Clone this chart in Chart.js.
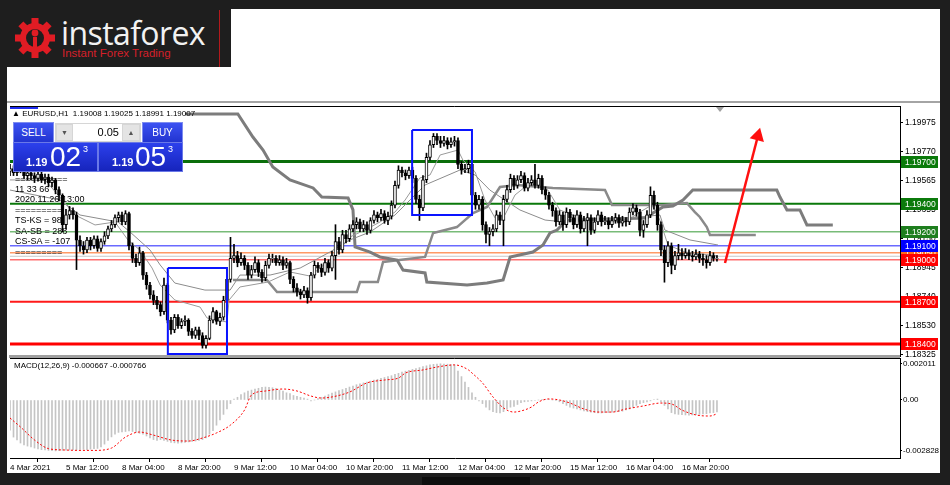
<!DOCTYPE html>
<html>
<head>
<meta charset="utf-8">
<script src="https://cdn.jsdelivr.net/npm/chart.js@4.4.1/dist/chart.umd.min.js"></script>
<style>
  body { margin: 0; width: 950px; height: 485px; background: #1e1e1e; position: relative; overflow: hidden;
         font-family: "Liberation Sans", Arial, sans-serif; }
  .abs { position: absolute; }
  .white { background: #fff; }
  canvas { position: absolute; }
  .txt { position: absolute; font-size: 9px; color: #000; white-space: pre; line-height: 10px; z-index: 5; }
  .btn { position: absolute; z-index: 6; color: #fff; font-size: 10px; text-align: center; line-height: 19px;
         background: linear-gradient(#3c52f2, #2234d0); border: 1px solid #7d8cf0; box-sizing: border-box; }
  .pbox { position: absolute; z-index: 6; color: #fff; background: linear-gradient(#2c40ec, #1624bc);
          border: 1px solid #6a78e8; box-sizing: border-box; }
  .pbox span { position: absolute; }
</style>
</head>
<body>
<!-- logo block -->
<div class="abs" style="left:219px;top:10px;width:1px;height:58px;background:#b3191c"></div>
<svg class="abs" style="left:14px;top:17px" width="42" height="42" viewBox="0 0 42 42">
  <g fill="#e01c24" transform="translate(21 21)">
    <rect x="-3.5" y="-20" width="7" height="8"/>
    <rect x="-3.5" y="-20" width="7" height="8" transform="rotate(45)"/>
    <rect x="-3.5" y="-20" width="7" height="8" transform="rotate(90)"/>
    <rect x="-3.5" y="-20" width="7" height="8" transform="rotate(135)"/>
    <rect x="-3.5" y="-20" width="7" height="8" transform="rotate(180)"/>
    <rect x="-3.5" y="-20" width="7" height="8" transform="rotate(225)"/>
    <rect x="-3.5" y="-20" width="7" height="8" transform="rotate(270)"/>
    <rect x="-3.5" y="-20" width="7" height="8" transform="rotate(315)"/>
    <circle r="15"/>
  </g>
  <circle cx="21" cy="21" r="9" fill="#1e1e1e"/>
  <circle cx="21" cy="16" r="3.4" fill="#e01c24"/>
  <rect x="19" y="20" width="4" height="16" fill="#e01c24"/>
</svg>
<div class="abs" style="left:61px;top:11px;font-family:'Open Sans',sans-serif;font-size:32px;color:#f2f2f2;letter-spacing:-0.6px">instaforex</div>
<div class="abs" style="left:62px;top:47px;font-size:11.5px;color:#d4202a">Instant Forex Trading</div>

<!-- white window -->
<div class="abs white" style="left:231px;top:9px;width:709px;height:59px"></div>
<div class="abs white" style="left:7px;top:67px;width:933px;height:406px"></div>
<div class="abs" style="left:422px;top:477px;width:108px;height:8px;background:#0e0e0e"></div>
<div class="abs" style="left:7px;top:101px;width:933px;height:2px;background:#a4a4a4"></div>
<div class="abs" style="left:9px;top:355px;width:891px;height:3px;background:#a0a0a0;z-index:4"></div>
<div class="abs" style="left:10px;top:107px;width:28px;height:2px;background:#1d2cf0;z-index:4"></div>
<div class="abs" style="left:716px;top:107px;width:0;height:0;border-left:4px solid transparent;border-right:4px solid transparent;border-top:5px solid #a0a0a0;z-index:4"></div>

<canvas id="mainChart" width="930" height="262" style="left:10px;top:100px"></canvas>
<canvas id="macdChart" width="930" height="125" style="left:10px;top:352px"></canvas>

<!-- chart text overlays -->
<div class="txt" style="left:12px;top:109px;font-size:8px">▲ EURUSD,H1  1.19008 1.19025 1.18991 1.19007</div>
<div class="txt" style="left:15px;top:174px">==========</div>
<div class="txt" style="left:15px;top:184px">11 33 66</div>
<div class="txt" style="left:15px;top:194px">2020.11.26 13:00</div>
<div class="txt" style="left:15px;top:205px">=========</div>
<div class="txt" style="left:15px;top:215px">TS-KS = 98</div>
<div class="txt" style="left:15px;top:226px">SA-SB = 288</div>
<div class="txt" style="left:15px;top:236px">CS-SA = -107</div>
<div class="txt" style="left:15px;top:247px">=========</div>
<div class="txt" style="left:14px;top:361px;font-size:8px">MACD(12,26,9) -0.000667 -0.000766</div>

<!-- one click trading panel -->
<div class="btn" style="left:13px;top:122px;width:41px;height:21px">SELL</div>
<div class="abs" style="left:55px;top:123px;width:86px;height:19px;background:#d6d6d6;z-index:6"></div>
<div class="abs" style="left:57px;top:125px;width:15px;height:15px;background:#e4e4e4;z-index:6;font-size:7px;color:#555;text-align:center;line-height:15px">▼</div>
<div class="abs" style="left:73px;top:124px;width:49px;height:17px;background:#fff;z-index:6;font-size:11px;text-align:right;line-height:17px;box-sizing:border-box;padding-right:3px">0.05</div>
<div class="abs" style="left:123px;top:125px;width:16px;height:15px;background:#e4e4e4;z-index:6;font-size:7px;color:#555;text-align:center;line-height:15px">▲</div>
<div class="btn" style="left:142px;top:122px;width:41px;height:21px">BUY</div>
<div class="pbox" style="left:13px;top:142px;width:85px;height:30px">
  <span style="left:12px;top:13px;font-size:11px;font-weight:bold">1.19</span>
  <span style="left:36px;top:-2px;font-size:28px">02</span>
  <span style="left:69px;top:1px;font-size:9px">3</span>
</div>
<div class="pbox" style="left:98px;top:142px;width:85px;height:30px">
  <span style="left:13px;top:13px;font-size:11px;font-weight:bold">1.19</span>
  <span style="left:36px;top:-2px;font-size:28px">05</span>
  <span style="left:69px;top:1px;font-size:9px">3</span>
</div>

<script>
// ---- EURUSD H1 candles, price x 10000 (open = previous close) ----
const firstOpen = 11963;
const closes = [
  11965,11962,11967,11964,11960,11962,11960,11958,11961,11957,
  11959,11955,11957,11950,11946,11925,11932,11935,11932,11914,
  11910,11907,11914,11910,11915,11908,11913,11917,11922,11925,
  11930,11932,11927,11933,11910,11901,11898,11905,11889,11882,
  11875,11871,11868,11863,11882,11857,11850,11859,11853,11856,
  11857,11849,11846,11850,11846,11839,11844,11857,11863,11856,
  11859,11871,11886,11901,11903,11898,11901,11896,11889,11893,
  11898,11891,11887,11896,11901,11901,11898,11900,11896,11898,
  11886,11880,11877,11875,11878,11873,11889,11896,11894,11891,
  11898,11894,11903,11913,11907,11918,11915,11922,11925,11927,
  11922,11925,11921,11928,11932,11930,11933,11928,11931,11939,
  11953,11964,11962,11960,11964,11958,11943,11937,11957,11973,
  11982,11988,11985,11983,11985,11982,11984,11985,11968,11964,
  11965,11968,11946,11939,11943,11925,11918,11920,11922,11932,
  11928,11943,11950,11958,11953,11957,11960,11951,11955,11957,
  11953,11958,11950,11946,11939,11935,11927,11932,11925,11934,
  11930,11925,11932,11922,11928,11930,11921,11927,11932,11927,
  11928,11925,11928,11930,11926,11928,11927,11934,11937,11934,
  11921,11925,11932,11946,11939,11925,11907,11898,11910,11896,
  11903,11905,11903,11905,11903,11902,11904,11901,11900,11898,
  11903,11901,11901
];
const highs = [
  11968,11967,11970,11969,11966,11964,11964,11962,11963,11963,
  11961,11961,11959,11958,11952,11947,11936,11938,11937,11934,
  11917,11913,11916,11916,11917,11917,11915,11920,11924,11928,
  11932,11934,11934,11935,11934,11912,11904,11909,11906,11891,
  11884,11878,11874,11870,11887,11883,11859,11861,11861,11858,
  11860,11858,11851,11852,11852,11848,11846,11860,11866,11864,
  11862,11874,11889,11916,11911,11906,11905,11903,11898,11896,
  11902,11900,11893,11899,11904,11904,11903,11903,11902,11901,
  11899,11888,11883,11879,11881,11880,11891,11899,11898,11897,
  11901,11900,11906,11925,11916,11921,11921,11925,11928,11930,
  11929,11928,11927,11930,11935,11934,11936,11935,11934,11942,
  11956,11967,11966,11964,11966,11966,11960,11946,11960,11976,
  11985,11990,11990,11988,11988,11987,11987,11988,11987,11970,
  11968,11971,11970,11948,11946,11945,11927,11923,11925,11935,
  11934,11946,11953,11961,11960,11960,11963,11962,11958,11960,
  11968,11961,11960,11952,11948,11941,11937,11935,11934,11937,
  11936,11932,11935,11934,11931,11933,11932,11930,11935,11934,
  11931,11930,11931,11933,11932,11931,11930,11937,11940,11939,
  11936,11928,11935,11952,11949,11941,11927,11910,11913,11912,
  11906,11911,11908,11908,11907,11906,11907,11906,11904,11903,
  11906,11905,11903
];
const lows = [
  11960,11960,11960,11962,11958,11957,11957,11955,11956,11955,
  11954,11952,11952,11947,11942,11920,11922,11929,11929,11893,
  11906,11904,11905,11907,11908,11906,11906,11911,11915,11920,
  11923,11927,11925,11925,11907,11898,11895,11896,11886,11879,
  11872,11868,11865,11860,11861,11855,11847,11848,11851,11851,
  11853,11846,11844,11844,11843,11837,11837,11843,11855,11854,
  11853,11857,11869,11884,11898,11895,11896,11893,11886,11887,
  11891,11888,11884,11885,11894,11898,11896,11896,11893,11894,
  11883,11877,11874,11872,11873,11869,11871,11887,11891,11888,
  11889,11891,11892,11886,11904,11905,11912,11913,11920,11922,
  11920,11920,11918,11919,11926,11927,11928,11926,11925,11929,
  11937,11951,11959,11957,11958,11955,11940,11928,11935,11955,
  11971,11980,11982,11980,11981,11979,11980,11981,11965,11961,
  11962,11962,11943,11936,11936,11921,11912,11910,11917,11920,
  11925,11910,11941,11948,11950,11951,11955,11949,11949,11953,
  11951,11951,11947,11943,11936,11931,11924,11925,11921,11923,
  11927,11922,11923,11919,11920,11910,11918,11919,11925,11924,
  11925,11922,11923,11926,11923,11924,11924,11925,11932,11931,
  11917,11916,11923,11930,11936,11921,11903,11884,11895,11890,
  11893,11900,11900,11901,11900,11899,11900,11898,11896,11894,
  11896,11899,11899
];

// ---- Ichimoku lines: bar index / price ----
const spanAX = [50,65.1,69.4,72.3,75.1,80,86.6,89.1,96.6,98,98.6,102.9,105.7,110.6,112.3,118.6,119.1,130.6,136.3,140.9,142.9,149.4,152.3,154.3,156.3,159.1,182,183.7,186.6,189.4,192.3,195.1,219.1,220,222,225.7,227.7,235.1];
const spanAY = [1.20039,1.20039,1.19875,1.19782,1.19661,1.19569,1.19512,1.19447,1.19440,1.19355,1.19091,1.19055,1.19020,1.18998,1.18927,1.18906,1.18841,1.18820,1.18834,1.18856,1.19020,1.19055,1.19105,1.19191,1.19212,1.19283,1.19298,1.19333,1.19376,1.19383,1.19426,1.19497,1.19497,1.19447,1.19355,1.19355,1.19248,1.19248];
const spanBX = [63.7,73.4,76.3,99.1,100,105.1,106.6,118.6,120.9,127.7,132.3,136.3,140,144.9,155.1,170,172,186.6,193.4,195.7,197.1,199.1,200,213.1];
const spanBY = [1.18856,1.18856,1.18770,1.18770,1.18841,1.18841,1.18984,1.19020,1.19191,1.19233,1.19333,1.19376,1.19519,1.19533,1.19512,1.19497,1.19390,1.19390,1.19405,1.19340,1.19305,1.19233,1.19176,1.19176];
const tenkanX = [0,10,13.7,18.6,24.3,30,33.7,37.1,40.6,42.9,47.1,54.3,56.3,62,62.6,65.7,73.7,80,85.7,88.6,92.9,97.1,101.4,105.7,110,112.9,117.1,120,122.9,128,129.4,132.9,135.7,138.6,141.4,144.3,148.6,153.7,157.1,162.9,175.7,180,183.4,185.7,188,192.9,202.3];
const tenkanY = [1.19569,1.19569,1.19462,1.19319,1.19248,1.19269,1.19141,1.19070,1.18941,1.18820,1.18713,1.18663,1.18585,1.18556,1.18713,1.18806,1.18841,1.18913,1.18884,1.18941,1.19034,1.19162,1.19212,1.19269,1.19340,1.19426,1.19583,1.19604,1.19747,1.19782,1.19711,1.19626,1.19426,1.19298,1.19319,1.19462,1.19547,1.19497,1.19355,1.19298,1.19269,1.19340,1.19390,1.19283,1.19105,1.19055,1.19027];
const kijunX = [0,14.3,20,30.9,34.3,40,42.9,47.1,55.7,62.9,65.7,74.3,82.9,91.4,97.1,102.9,110,114.3,118.6,128.6,132.9,137.1,145.7,152.9,158.6,177.1,185.7,187.1,194.3,202.3];
const kijunY = [1.19497,1.19426,1.19319,1.19269,1.19198,1.19070,1.18963,1.18834,1.18784,1.18784,1.18891,1.18891,1.18941,1.19055,1.19141,1.19198,1.19319,1.19426,1.19533,1.19640,1.19604,1.19497,1.19355,1.19283,1.19269,1.19298,1.19319,1.19212,1.19141,1.19105];

// ---- horizontal levels ----
const levelPrices = [1.19700, 1.19400, 1.19200, 1.19100, 1.19050, 1.19025, 1.19000, 1.18700, 1.18400];
const levelColors = ['#0a6e0a', '#0a780a', '#78bb78', '#6a6aff', '#ff9a66', '#c8c8c8', '#ff7070', '#ff1a1a', '#ff0000'];
const levelWidths = [3, 2, 1.5, 1.5, 1.5, 1, 1.5, 2, 3];
const tagPrices = [1.19700, 1.19400, 1.19200, 1.19050, 1.19100, 1.19000, 1.18700, 1.18400];
const tagColors = ['#0b7a0b', '#0b7a0b', '#1e7e1e', '#ff6a1a', '#0000ff', '#ff0000', '#ff0000', '#ff0000'];

// ---- marked zones and forecast arrow ----
const zone1X = [45.1, 62, 62, 45.1, 45.1];
const zone1Y = [1.18941, 1.18941, 1.18328, 1.18328, 1.18941];
const zone2X = [114.9, 132, 132, 114.9, 114.9];
const zone2Y = [1.19925, 1.19925, 1.19319, 1.19319, 1.19925];
const arrowX = [204.3, 213.7];
const arrowY = [1.18977, 1.19882];

// ---- axes ----
const priceTicks = [1.18325, 1.18530, 1.18740, 1.18945, 1.19150, 1.19355, 1.19565, 1.19770, 1.19975];
const macdTicks = [-0.002828, 0, 0.002011];
const timeTickIdx = [0, 16, 32, 48, 64, 80, 96, 112, 128, 144, 160, 176, 192];
const timeLabels = ['4 Mar 2021', '5 Mar 12:00', '8 Mar 04:00', '8 Mar 20:00', '9 Mar 12:00', '10 Mar 04:00',
  '10 Mar 20:00', '11 Mar 12:00', '12 Mar 04:00', '12 Mar 20:00', '15 Mar 12:00', '16 Mar 04:00', '16 Mar 20:00'];

// ---- MACD(12,26,9), values x 1e-6 ----
const macdMain = [
  -1670,-2060,-2220,-2390,-2500,-2560,-2610,
  -2670,-2720,-2760,-2780,-2800,-2810,-2828,-2820,-2800,-2790,
  -2780,-2760,-2770,-2750,-2740,-2760,-2730,-2700,-2690,
  -2610,-2450,-2250,-2050,-1900,-1800,
  -1780,-1750,-1720,-1750,-1800,-1850,
  -1900,-2000,-2100,-2200,-2250,-2200,
  -2250,-2300,-2350,-2380,-2400,-2380,-2350,-2330,-2300,-2280,-2250,
  -2200,-2100,-1900,-1700,-1400,-1100,-800,-500,
  -200,50,
  150,300,400,500,550,600,650,700,720,700,680,650,
  550,500,400,350,250,200,150,
  100,50,-50,0,80,
  150,220,300,380,450,520,580,650,
  720,780,850,900,950,1000,1050,1100,1150,1200,1250,1300,1350,1420,1480,
  1550,1600,1650,1700,1750,1800,1850,1900,1950,1980,2000,2011,2000,1990,1970,1950,
  1600,1300,1000,700,400,150,
  -50,-200,
  -400,-550,-650,-700,-720,-650,
  -500,-400,-350,-250,
  -150,-100,-80,-50,-30,0,
  20,30,20,0,-20,
  -100,-200,-300,-400,-450,-500,-550,-600,
  -650,-680,-700,-720,-720,-700,-700,-680,-660,-650,-620,
  -550,-500,-400,-300,-200,-150,-100,-50,30,
  50,-100,-300,-500,-700,
  -780,-800,-820,-830,-840,-830,-820,-800,-780,-760,-720,-700,-667
];
const signalX = [0,3,7,11,16,20,24,29,33,37,41,46,51,55,59,63,67,69,73,78,82,86,89,92,97,102,107,111,113,118,122,127,131,132,135,138,141,144,146,149,151,154,157,160,164,168,172,176,181,186,189,192,196,200,202];
const signalY = [-1000,-1500,-2220,-2700,-2780,-2800,-2800,-2670,-2060,-1780,-1950,-2220,-2280,-2110,-1830,-1390,-560,280,500,610,500,220,110,170,440,950,1110,1220,1500,1670,1830,1950,1670,1500,950,170,-440,-670,-610,-390,-110,60,0,-170,-500,-670,-670,-500,-330,-170,-220,-560,-830,-890,-766];

const X_MAX = 254.3;
const FONT = { family: 'Liberation Sans', size: 8.5 };

function pts(xs, ys) { return xs.map((x, i) => ({ x, y: ys[i] })); }

// candle bodies / wicks
const opens = [firstOpen, ...closes.slice(0, -1)];
const bodyData = closes.map((c, i) => {
  const o = opens[i];
  const lo = Math.min(o, c) / 1e4, hi = Math.max(o, c) / 1e4;
  return { x: i, y: lo === hi ? [lo - 0.000006, hi + 0.000006] : [lo, hi] };
});
const bodyFill = closes.map((c, i) => (c >= opens[i] ? '#ffffff' : '#000000'));
const wickData = closes.map((_, i) => ({ x: i, y: [lows[i] / 1e4, highs[i] / 1e4] }));

function lineDs(data, color, width, order, extra) {
  return Object.assign({ type: 'line', data, borderColor: color, borderWidth: width, pointRadius: 0,
    tension: 0, order }, extra || {});
}

const levelDatasets = levelPrices.map((p, k) =>
  lineDs([{ x: 0, y: p }, { x: X_MAX, y: p }], levelColors[k], levelWidths[k], 20));

// frame + price tags
const panelPlugin = {
  id: 'panel',
  afterDraw(chart) {
    const { ctx, chartArea: a } = chart;
    ctx.save();
    ctx.strokeStyle = '#000';
    ctx.lineWidth = 1;
    ctx.beginPath();
    ctx.moveTo(a.left - 0.5, a.bottom);
    ctx.lineTo(a.left - 0.5, a.top + 0.5);
    ctx.lineTo(a.right, a.top + 0.5);
    ctx.stroke();
    if (chart.canvas.id === 'mainChart') {
      const ys = chart.scales.y;
      ctx.font = '8.5px "Liberation Sans"';
      ctx.textBaseline = 'middle';
      tagPrices.forEach((p, k) => {
        const y = Math.round(ys.getPixelForValue(p));
        ctx.fillStyle = tagColors[k];
        ctx.fillRect(a.right + 1, y - 6, 37, 12);
        ctx.fillStyle = '#fff';
        ctx.fillText(p.toFixed(5), a.right + 5, y + 0.5);
      });
    }
    ctx.restore();
  }
};

new Chart(document.getElementById('mainChart'), {
  type: 'bar',
  data: {
    datasets: [
      ...levelDatasets,
      lineDs(pts(spanAX, spanAY), '#7c7c7c', 3, 15),
      lineDs(pts(spanBX, spanBY), '#8a8a8a', 2.5, 15),
      lineDs(pts(kijunX, kijunY), '#8c8c8c', 1, 14),
      lineDs(pts(tenkanX, tenkanY), '#9a9a9a', 1, 14),
      { type: 'bar', data: wickData, backgroundColor: '#000', barThickness: 1, grouped: false, order: 3 },
      { type: 'bar', data: bodyData, backgroundColor: bodyFill, borderColor: '#000', borderWidth: 1,
        borderSkipped: false, barThickness: 3, grouped: false, order: 2 },
      lineDs(pts(zone1X, zone1Y), '#0a14ff', 2, 1),
      lineDs(pts(zone2X, zone2Y), '#0a14ff', 2, 1),
      lineDs(pts(arrowX, arrowY), '#ff1010', 2.5, 0, {
        pointRadius: [0, 6], pointStyle: 'triangle', pointRotation: 15,
        pointBackgroundColor: '#ff1010', pointBorderColor: '#ff1010' })
    ]
  },
  options: {
    responsive: false, animation: false, events: [],
    layout: { autoPadding: false, padding: { top: 6, bottom: 6, left: 0, right: 0 } },
    plugins: { legend: { display: false }, tooltip: { enabled: false } },
    scales: {
      x: { type: 'linear', min: 0, max: X_MAX, offset: false, display: false },
      y: {
        type: 'linear', position: 'right', min: 1.18314, max: 1.20096,
        afterFit(s) { s.width = 40; s.paddingTop = 0; s.paddingBottom = 0; },
        afterBuildTicks(s) { s.ticks = priceTicks.map(v => ({ value: v })); },
        ticks: { callback: v => v.toFixed(5), font: FONT, color: '#000', padding: 2 },
        grid: { drawOnChartArea: false, tickLength: 3, color: '#000' },
        border: { color: '#000' }
      }
    }
  },
  plugins: [panelPlugin]
});

new Chart(document.getElementById('macdChart'), {
  type: 'bar',
  data: {
    datasets: [
      lineDs(pts(signalX, signalY.map(v => v / 1e6)), '#ff0000', 1, 0,
        { borderDash: [2, 2], cubicInterpolationMode: 'monotone' }),
      { type: 'bar', data: macdMain.map((v, i) => ({ x: i, y: v / 1e6 })), backgroundColor: '#c4c4c4',
        barThickness: 1, grouped: false, order: 1 }
    ]
  },
  options: {
    responsive: false, animation: false, events: [],
    layout: { autoPadding: false, padding: { top: 6, bottom: 0, left: 0, right: 0 } },
    plugins: { legend: { display: false }, tooltip: { enabled: false } },
    scales: {
      x: {
        type: 'linear', min: 0, max: X_MAX, offset: false,
        afterFit(s) { s.height = 19; s.paddingLeft = 0; s.paddingRight = 0; },
        afterBuildTicks(s) { s.ticks = timeTickIdx.map(v => ({ value: v })); },
        ticks: { callback: (v) => timeLabels[timeTickIdx.indexOf(v)], align: 'start', maxRotation: 0,
                 autoSkip: false, font: { family: 'Liberation Sans', size: 8 }, color: '#000', padding: 1 },
        grid: { drawOnChartArea: false, tickLength: 4, color: '#000' },
        border: { color: '#000' }
      },
      y: {
        type: 'linear', position: 'right', min: -0.003222, max: 0.002333,
        afterFit(s) { s.width = 40; s.paddingTop = 0; s.paddingBottom = 0; },
        afterBuildTicks(s) { s.ticks = macdTicks.map(v => ({ value: v })); },
        ticks: { callback: v => (v === 0 ? '0.00' : v.toFixed(6)), font: { family: 'Liberation Sans', size: 8 },
                 color: '#000', padding: 1 },
        grid: { drawOnChartArea: false, tickLength: 2, color: '#000' },
        border: { color: '#000' }
      }
    }
  },
  plugins: [panelPlugin]
});
</script>
</body>
</html>
